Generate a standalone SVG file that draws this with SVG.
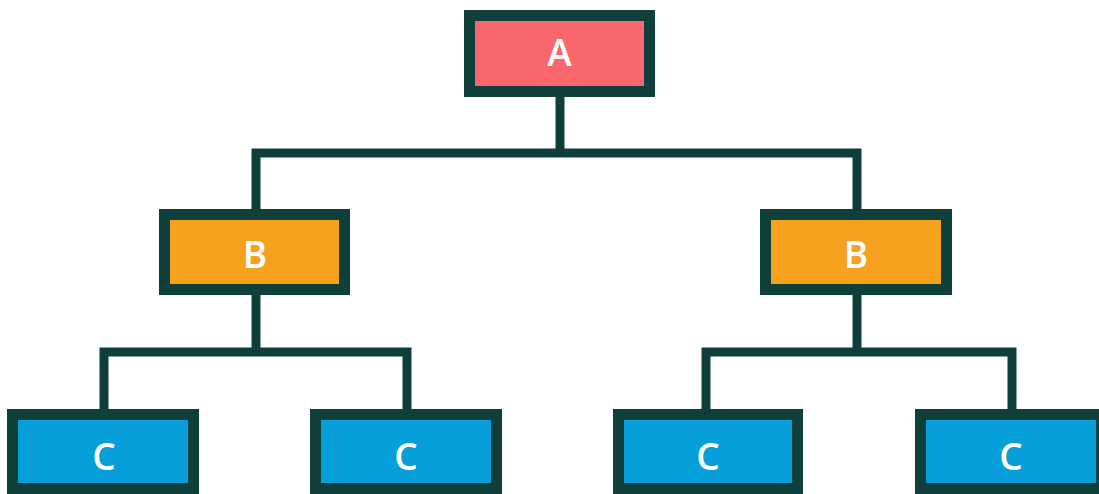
<svg xmlns="http://www.w3.org/2000/svg" width="1099" height="494" viewBox="0 0 1099 494">
  <style>
    .box { stroke: #0f3f3a; stroke-width: 11; }
    .a { fill: #f9676c; }
    .b { fill: #f6a21e; }
    .c { fill: #079fd9; }
    .link { fill: none; stroke: #0f3f3a; stroke-width: 9; stroke-linejoin: miter; }
    .lbl { fill: #ffffff; font-family: "Open Sans", "Liberation Sans", sans-serif; font-weight: 600; font-size: 37px; text-anchor: middle; }
  </style>
  <rect width="1099" height="494" fill="#ffffff"/>

  <!-- tree edges -->
  <g id="connectors">
    <path class="link" d="M560 97 V153"/>
    <path class="link" d="M256 209 V153 H857 V209"/>
    <path class="link" d="M256 295 V352"/>
    <path class="link" d="M104 409 V352 H407 V409"/>
    <path class="link" d="M857 295 V352"/>
    <path class="link" d="M706 409 V352 H1012 V409"/>
  </g>

  <g id="nodeA">
    <rect class="box a" x="469.5" y="15.5" width="180" height="76"/>
    <text class="lbl" x="559.5" y="66">A</text>
  </g>
  <g id="nodeB1">
    <rect class="box b" x="164.5" y="214.5" width="180" height="75"/>
    <text class="lbl" x="255" y="268">B</text>
  </g>
  <g id="nodeB2">
    <rect class="box b" x="765.5" y="214.5" width="181" height="75"/>
    <text class="lbl" x="856" y="268">B</text>
  </g>
  <g id="nodeC1">
    <rect class="box c" x="12.5" y="414.5" width="181" height="74"/>
    <text class="lbl" x="104" y="470">C</text>
  </g>
  <g id="nodeC2">
    <rect class="box c" x="315.5" y="414.5" width="181" height="74"/>
    <text class="lbl" x="406" y="470">C</text>
  </g>
  <g id="nodeC3">
    <rect class="box c" x="618.5" y="414.5" width="179" height="74"/>
    <text class="lbl" x="708" y="470">C</text>
  </g>
  <g id="nodeC4">
    <rect class="box c" x="920.5" y="414.5" width="181" height="74"/>
    <text class="lbl" x="1011" y="470">C</text>
  </g>
</svg>
